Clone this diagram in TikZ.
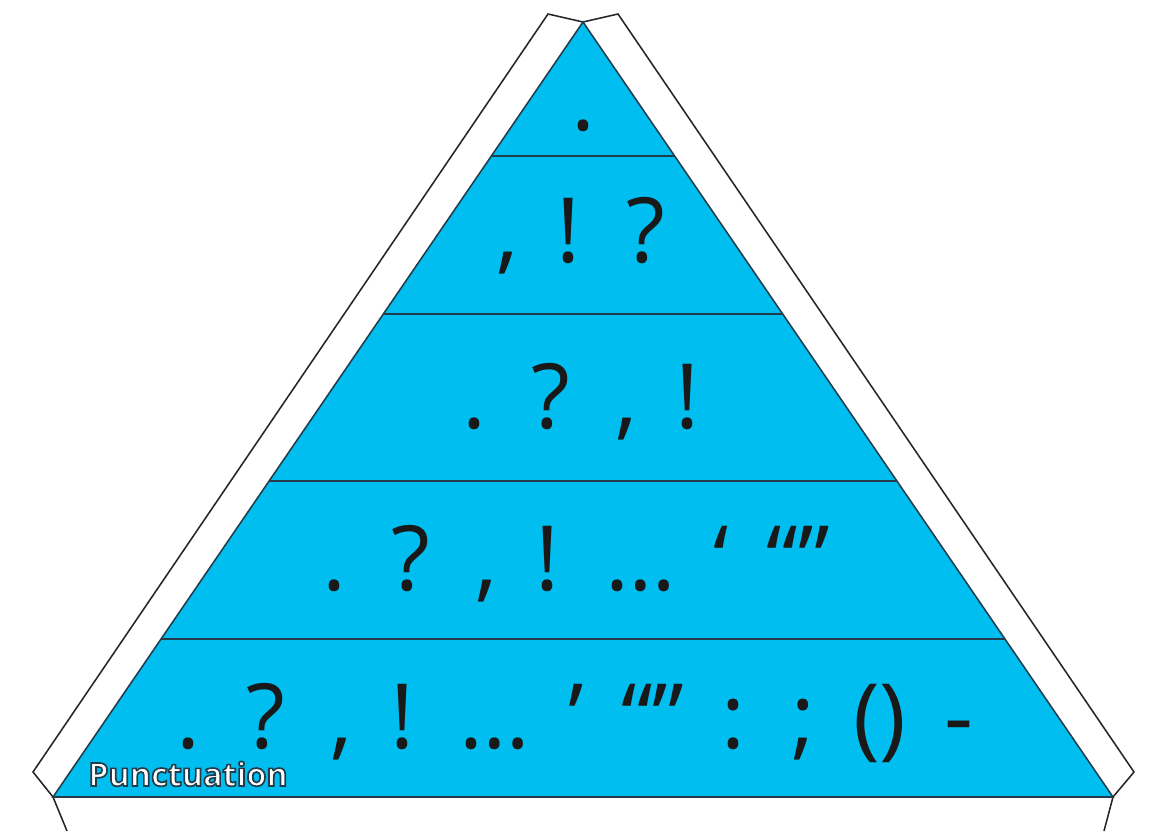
\documentclass[tikz,border=0pt]{standalone}
\usepackage{fontspec}
\setmainfont{Open Sans}
\usetikzlibrary{positioning}
\definecolor{pyrblue}{RGB}{0,191,240}
\definecolor{edgedark}{RGB}{35,60,75}
% wide-spaced large marks
\newcommand{\punctfont}{\fontsize{64}{70}\selectfont\spaceskip 0.42em\relax}
% outlined white lettering for the label
\newcommand{\outlinetext}[1]{{\color{white}\special{pdf:literal direct 2 Tr 1.2 w 0.137 0.235 0.294 RG}#1\special{pdf:literal direct 0 Tr}}}

\begin{document}
\begin{tikzpicture}[
    x=0.025cm, y=-0.025cm,
    frame/.style={draw=black!85, line width=1.1pt},
    layer/.style={draw=edgedark, line width=1.1pt},
    punct/.style={anchor=base, inner sep=0pt, text depth=0pt, text=black!90, font=\punctfont},
    title/.style={anchor=base west, inner sep=0pt, font=\bfseries\fontsize{23}{26}\selectfont}
]
\useasboundingbox (0,0) rectangle (1173,831);

% White frame
\draw[frame, fill=white] (53,797) -- (33,772) -- (548,14) -- (583,22) -- (618,14) -- (1134,772) -- (1113,797);
\draw[frame] (53,797) -- (67,831);
\draw[frame] (1113,797) -- (1104,831);

% Pyramid
\filldraw[fill=pyrblue, layer] (583,22) -- (53,797) -- (1113,797) -- cycle;
\foreach \y in {156,314,481,639}
  \draw[layer] ({583-(\y-22)/775*530},\y) -- ({583+(\y-22)/775*530},\y);
\draw[edgedark, line width=2pt] (53,797) -- (1113,797);

% Rows
\node[punct] (row1) at (583,130) {.};
\node[punct] (row2) at (581,262) {, ! ?};
\node[punct] (row3) at (581,428) {. ? , !};
\node[punct] (row4) at (576,590) {. ? , ! … ‘ “”};
\node[punct] (row5) at (575,748) {. ? , ! … ’ “” : ; () -};

% Label
\node[title] (label) at (88,786) {\outlinetext{Punctuation}};

\end{tikzpicture}
\end{document}
